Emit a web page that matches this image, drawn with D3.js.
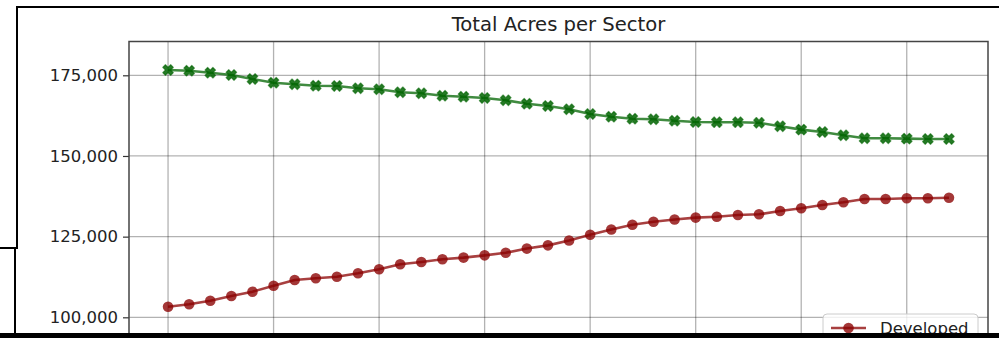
<!DOCTYPE html>
<html>
<head>
<meta charset="utf-8">
<script src="https://cdn.jsdelivr.net/npm/d3@7"></script>
<style>
  html, body { margin: 0; padding: 0; background: #fff; overflow: hidden; }
  svg { display: block; font-family: "DejaVu Sans", sans-serif; }
</style>
</head>
<body>
<div id="chart"></div>
<script>
// Total acres per sector, one value per year
const years = [1985, 1986, 1987, 1988, 1989, 1990, 1991, 1992, 1993, 1994,
  1995, 1996, 1997, 1998, 1999, 2000, 2001, 2002, 2003, 2004,
  2005, 2006, 2007, 2008, 2009, 2010, 2011, 2012, 2013, 2014,
  2015, 2016, 2017, 2018, 2019, 2020, 2021, 2022];

const forest = [176640, 176425, 175806, 175093, 173853, 172707, 172211, 171777, 171684, 170971,
  170661, 169732, 169422, 168678, 168368, 167965, 167252, 166199, 165486, 164463,
  163007, 162170, 161550, 161364, 160931, 160528, 160466, 160466, 160280, 159195,
  158173, 157429, 156406, 155477, 155477, 155384, 155260, 155260];

const developed = [103289, 104033, 105149, 106605, 107938, 109797, 111563, 112090, 112586, 113640,
  114879, 116429, 117142, 118000, 118500, 119200, 120000, 121300, 122300, 123800,
  125600, 127200, 128700, 129600, 130300, 130900, 131180, 131707, 131924, 132947,
  133783, 134806, 135643, 136665, 136665, 136882, 136882, 137068];

// only the visible part of the chart: lower ticks and x labels fall below the crop
const yTicks = [100000, 125000, 150000, 175000];
const xTicks = [1985, 1990, 1995, 2000, 2005, 2010, 2015, 2020];
const legendNames = ['Developed'];

const series = [
  { name: 'Developed', values: developed, color: '#8b0000', marker: 'circle' },
  { name: 'Forest', values: forest, color: '#006400', marker: 'x' }
];

const width = 999;
const height = 338;
const margin = { top: 41.5, left: 129, right: 11 };
const plotH = 598.5;

const svg = d3.select('#chart').append('svg')
  .attr('width', width)
  .attr('height', height);

// matplotlib-style 5% padding on x
const span = years[years.length - 1] - years[0];
const x = d3.scaleLinear()
  .domain([years[0] - span * 0.05, years[years.length - 1] + span * 0.05])
  .range([margin.left, width - margin.right]);

const y = d3.scaleLinear()
  .domain([0, 185475])
  .range([margin.top + plotH, margin.top]);

// grid
const grid = svg.append('g');
grid.selectAll('line.gx')
  .data(xTicks)
  .join('line')
  .attr('x1', d => x(d)).attr('x2', d => x(d))
  .attr('y1', margin.top).attr('y2', margin.top + plotH)
  .attr('stroke', '#000').attr('stroke-opacity', 0.3).attr('stroke-width', 1.3);
grid.selectAll('line.gy')
  .data(yTicks)
  .join('line')
  .attr('x1', margin.left).attr('x2', width - margin.right)
  .attr('y1', d => y(d)).attr('y2', d => y(d))
  .attr('stroke', '#000').attr('stroke-opacity', 0.3).attr('stroke-width', 1.3);

// y axis
const yAxis = svg.append('g')
  .attr('transform', `translate(${margin.left},0)`)
  .call(d3.axisLeft(y).tickValues(yTicks).tickFormat(d3.format(',')).tickSize(6).tickPadding(5));
yAxis.select('.domain').remove();
yAxis.selectAll('.tick line').attr('stroke', '#333').attr('stroke-width', 1.2);
yAxis.selectAll('.tick text')
  .attr('font-size', 16.5)
  .attr('fill', '#222')
  .attr('font-family', '"DejaVu Sans", sans-serif');

// spines
svg.append('rect')
  .attr('x', margin.left).attr('y', margin.top)
  .attr('width', width - margin.right - margin.left).attr('height', plotH)
  .attr('fill', 'none').attr('stroke', '#444').attr('stroke-width', 1.5);

// filled X marker like matplotlib 'X'
function xMarker(s) {
  const u = s / 3;
  const pts = [[-u, -3 * u], [u, -3 * u], [u, -u], [3 * u, -u], [3 * u, u], [u, u],
    [u, 3 * u], [-u, 3 * u], [-u, u], [-3 * u, u], [-3 * u, -u], [-u, -u]];
  const c = Math.SQRT1_2;
  return 'M' + pts.map(p => [(p[0] - p[1]) * c, (p[0] + p[1]) * c].join(',')).join('L') + 'Z';
}

const line = d3.line()
  .x((d, i) => x(years[i]))
  .y(d => y(d));

series.forEach(s => {
  const g = svg.append('g');
  g.append('path')
    .datum(s.values)
    .attr('d', line)
    .attr('fill', 'none')
    .attr('stroke', s.color)
    .attr('stroke-opacity', 0.75)
    .attr('stroke-width', 2.6);

  if (s.marker === 'circle') {
    g.selectAll('circle')
      .data(s.values)
      .join('circle')
      .attr('cx', (d, i) => x(years[i]))
      .attr('cy', d => y(d))
      .attr('r', 5.3)
      .attr('fill', s.color)
      .attr('fill-opacity', 0.78);
  } else {
    g.selectAll('path.mk')
      .data(s.values)
      .join('path')
      .attr('class', 'mk')
      .attr('d', xMarker(5.6))
      .attr('transform', (d, i) => `translate(${x(years[i])},${y(d)})`)
      .attr('fill', s.color)
      .attr('fill-opacity', 0.85)
      .attr('stroke', s.color)
      .attr('stroke-opacity', 0.6)
      .attr('stroke-width', 1.2)
      .attr('stroke-linejoin', 'round');
  }
});

// title
svg.append('text')
  .attr('x', (margin.left + width - margin.right) / 2)
  .attr('y', 31)
  .attr('text-anchor', 'middle')
  .attr('font-size', 19.6)
  .attr('fill', '#222')
  .text('Total Acres per Sector');

// legend, lower right (only its first row is inside the crop)
const legendSeries = series.filter(s => legendNames.includes(s.name));
const legend = svg.append('g').attr('transform', 'translate(823,314)');
legend.append('rect')
  .attr('width', 155).attr('height', 58).attr('rx', 4)
  .attr('fill', '#fff').attr('fill-opacity', 0.8)
  .attr('stroke', '#ccc');
const item = legend.selectAll('g.item')
  .data(legendSeries)
  .join('g')
  .attr('class', 'item')
  .attr('transform', (d, i) => `translate(0,${14 + i * 24})`);
item.append('line')
  .attr('x1', 8).attr('x2', 43)
  .attr('stroke', d => d.color).attr('stroke-opacity', 0.75).attr('stroke-width', 2.6);
item.append('circle')
  .attr('cx', 25.5).attr('r', 5.3)
  .attr('fill', d => d.color).attr('fill-opacity', 0.78);
item.append('text')
  .attr('x', 57).attr('y', 6)
  .attr('font-size', 16.5).attr('fill', '#222')
  .text(d => d.name);

// black frame of the screenshot
const frame = svg.append('g').attr('fill', '#000');
frame.append('rect').attr('x', 16).attr('y', 6).attr('width', width - 16).attr('height', 2);
frame.append('rect').attr('x', 16).attr('y', 6).attr('width', 2).attr('height', 243);
frame.append('rect').attr('x', 0).attr('y', 247).attr('width', 18).attr('height', 2);
frame.append('rect').attr('x', 14).attr('y', 247).attr('width', 2).attr('height', 91);
frame.append('rect').attr('x', 0).attr('y', 333).attr('width', width).attr('height', 5);
</script>
</body>
</html>
